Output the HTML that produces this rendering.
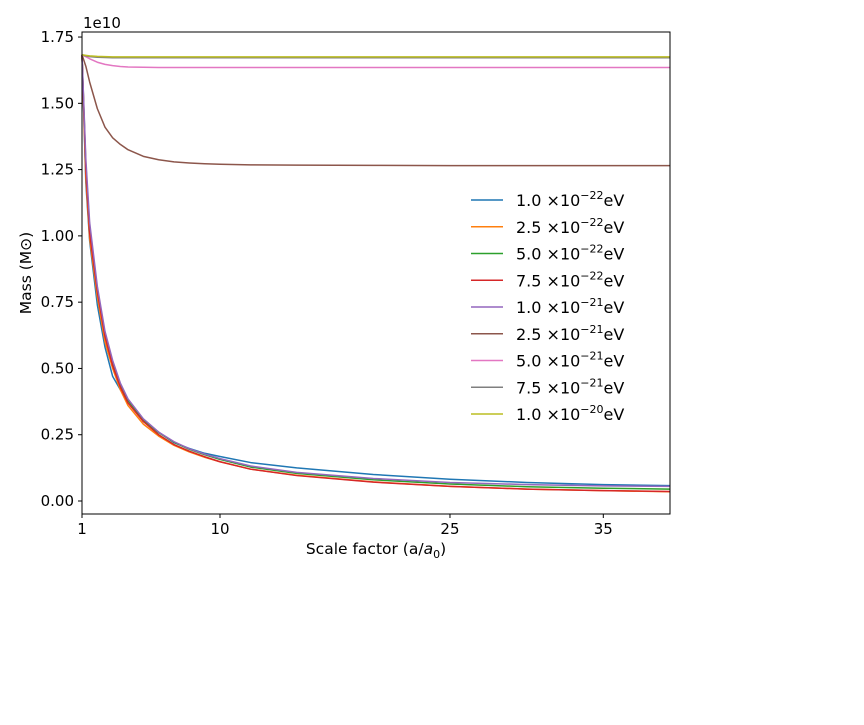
<!DOCTYPE html>
<html><head><meta charset="utf-8"><style>
body{margin:0;background:#fff;}
svg text{font-family:"DejaVu Sans","Liberation Sans",sans-serif;fill:#000;}
</style></head><body>
<svg width="864" height="720" viewBox="0 0 864 720">
<g id="plot"></g>
</svg>
<script>
const xs = [1,1.25,1.5,2,2.5,3,3.5,4,5,6,7,8,9,10,12,15,20,25,30,35,39.35];
const s1 = [1.683,1.2,0.98,0.74,0.58,0.47,0.42,0.38,0.30,0.26,0.22,0.198,0.18,0.168,0.145,0.125,0.10,0.082,0.07,0.062,0.058];
const s2 = [1.683,1.22,0.99,0.77,0.60,0.50,0.42,0.36,0.29,0.245,0.21,0.185,0.165,0.148,0.12,0.097,0.072,0.055,0.045,0.039,0.035];
const s3 = [1.683,1.27,1.03,0.80,0.63,0.52,0.44,0.38,0.305,0.258,0.222,0.195,0.175,0.157,0.128,0.104,0.08,0.064,0.054,0.048,0.045];
const s4 = [1.683,1.25,1.01,0.79,0.62,0.51,0.43,0.37,0.30,0.25,0.213,0.188,0.167,0.148,0.12,0.096,0.071,0.055,0.045,0.039,0.036];
const s5 = [1.683,1.29,1.05,0.81,0.64,0.53,0.445,0.385,0.31,0.26,0.224,0.197,0.177,0.16,0.132,0.108,0.085,0.07,0.062,0.057,0.055];
const s6 = [1.683,1.64,1.58,1.48,1.41,1.37,1.345,1.325,1.300,1.287,1.279,1.275,1.272,1.27,1.268,1.267,1.266,1.265,1.265,1.265,1.265];
const s7 = [1.683,1.676,1.668,1.655,1.647,1.642,1.639,1.637,1.636,1.635,1.635,1.635,1.635,1.635,1.635,1.635,1.635,1.635,1.635,1.635,1.635];
const s8 = [1.683,1.679,1.676,1.674,1.673,1.672,1.672,1.672,1.672,1.672,1.672,1.672,1.672,1.672,1.672,1.672,1.672,1.672,1.672,1.672,1.672];
const s9 = [1.683,1.681,1.679,1.677,1.676,1.675,1.675,1.675,1.675,1.675,1.675,1.675,1.675,1.675,1.675,1.675,1.675,1.675,1.675,1.675,1.675];
const seriesValues = [s1,s2,s3,s4,s5,s6,s7,s8,s9];
const seriesColors = ["#1f77b4","#ff7f0e","#2ca02c","#d62728","#9467bd","#8c564b","#e377c2","#7f7f7f","#bcbd22"];
const legendMant = ["1.0","2.5","5.0","7.5","1.0","2.5","5.0","7.5","1.0"];
const legendExp = ["−22","−22","−22","−22","−21","−21","−21","−21","−20"];
const xTicks = [1,10,25,35];
const yTicks = [0,0.25,0.5,0.75,1.0,1.25,1.5,1.75];
const yTickLabels = ["0.00","0.25","0.50","0.75","1.00","1.25","1.50","1.75"];

const L=82,R=670,T=32,B=514;
const xmin=1,xmax=39.35,ymin=-0.049,ymax=1.769;
const X=v=>L+(v-xmin)/(xmax-xmin)*(R-L);
const Y=v=>B-(v-ymin)/(ymax-ymin)*(B-T);
const NS="http://www.w3.org/2000/svg";
const g=document.getElementById('plot');
function mk(tag,attrs,parent){const e=document.createElementNS(NS,tag);for(const k in attrs)e.setAttribute(k,attrs[k]);(parent||g).appendChild(e);return e;}

seriesValues.forEach((vals,i)=>{
  const d=vals.map((v,j)=>(j?'L':'M')+X(xs[j]).toFixed(2)+','+Y(v).toFixed(2)).join(' ');
  const p=mk('path',{d:d,fill:'none',stroke:seriesColors[i],'stroke-width':1.5,'stroke-linejoin':'round'});
  
  
});
const fr=mk('rect',{x:L,y:T,width:R-L,height:B-T,fill:'none',stroke:'#000','stroke-width':1});


xTicks.forEach(t=>{
  mk('line',{x1:X(t),x2:X(t),y1:B,y2:B+4,stroke:'#000'});
  const tx=mk('text',{x:X(t),y:B+20,'text-anchor':'middle','font-size':15});
  tx.textContent=t;
  
  
});
yTicks.forEach((t,i)=>{
  mk('line',{x1:L-4,x2:L,y1:Y(t),y2:Y(t),stroke:'#000'});
  const tx=mk('text',{x:L-8,y:Y(t)+5,'text-anchor':'end','font-size':15});
  tx.textContent=yTickLabels[i];
  
  
});
const off=mk('text',{x:83,y:28,'font-size':15});off.textContent='1e10';


const xt=mk('text',{x:376,y:554,'text-anchor':'middle','font-size':15.5});
xt.innerHTML='Scale factor (a/<tspan font-style="italic">a</tspan><tspan font-size="11" dy="4">0</tspan><tspan dy="-4">)</tspan>';


const yt=mk('text',{x:31,y:273,'text-anchor':'middle','font-size':15.5,transform:'rotate(-90 31 273)'});
yt.textContent='Mass (M⊙)';


legendMant.forEach((m,i)=>{
  const y=200+i*26.75;
  const ln=mk('line',{x1:471,x2:503,y1:y,y2:y,stroke:seriesColors[i],'stroke-width':1.5});
  
  
  const t=mk('text',{x:516,y:y+6,'font-size':16});
  t.innerHTML=m+' ×10<tspan font-size="11" dy="-7">'+legendExp[i]+'</tspan><tspan dy="7">eV</tspan>';
  
  
});
</script>
</body></html>
